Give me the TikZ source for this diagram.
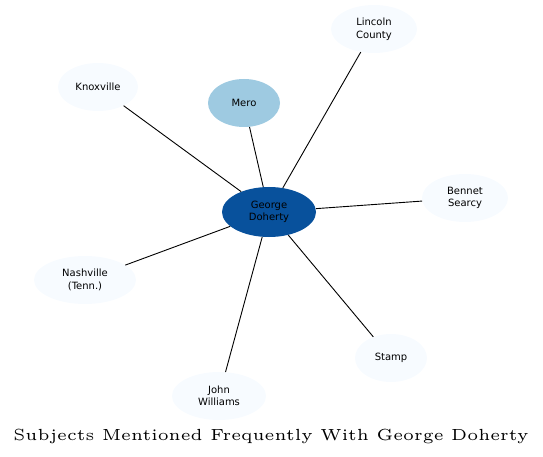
\documentclass[tikz,border=0pt]{standalone}
\usepackage{fontspec}
\newfontfamily\nodefont{DejaVu Sans}
\newfontfamily\titlefont{lmroman5-regular.otf}
\usetikzlibrary{shapes.geometric}
\definecolor{dark}{HTML}{08519C}
\definecolor{mid}{HTML}{9ECAE1}
\definecolor{pale}{HTML}{F7FBFF}
\tikzset{
  subj/.style={ellipse, fill=pale, draw=none, inner sep=0pt, align=center,
    font=\nodefont\fontsize{10}{12.5}\selectfont, minimum height=48pt},
  edge/.style={draw=black, line width=0.9pt}
}
\begin{document}
\begin{tikzpicture}[x=1pt,y=-1pt]
\useasboundingbox (0,0) rectangle (543,457);
\node[subj, fill=dark, minimum width=94pt, minimum height=50pt] (gd) at (269,212) {George\\Doherty};
\node[subj, fill=mid, minimum width=72pt] (mero) at (244,103) {Mero};
\node[subj, minimum width=86pt] (lc) at (374,29) {Lincoln\\County};
\node[subj, minimum width=80pt] (kn) at (98,87) {Knoxville};
\node[subj, minimum width=86pt] (bs) at (465,198) {Bennet\\Searcy};
\node[subj, minimum width=102pt] (na) at (85,280) {Nashville\\(Tenn.)};
\node[subj, minimum width=72pt] (st) at (391,358) {Stamp};
\node[subj, minimum width=94pt] (jw) at (219,396) {John\\Williams};
\node (title) at (271,436) {\titlefont\fontsize{16.1}{19}\selectfont Subjects Mentioned Frequently With George Doherty};
\draw[edge] (gd) -- (mero);
\draw[edge] (gd) -- (lc);
\draw[edge] (gd) -- (kn);
\draw[edge] (gd) -- (bs);
\draw[edge] (gd) -- (na);
\draw[edge] (gd) -- (st);
\draw[edge] (gd) -- (jw);
\end{tikzpicture}
\end{document}
